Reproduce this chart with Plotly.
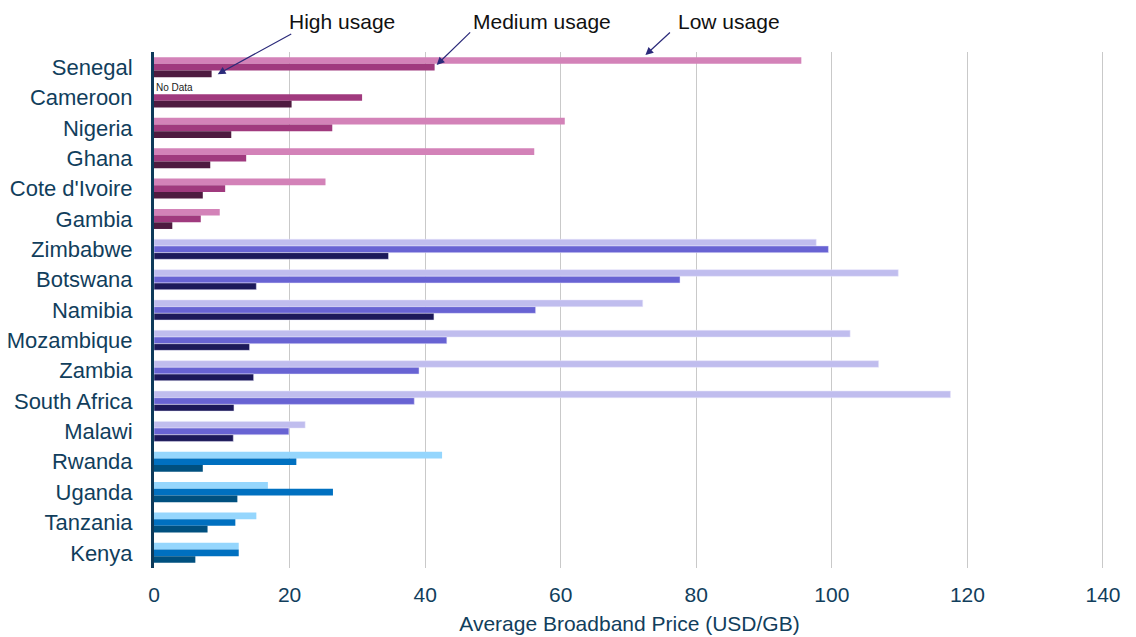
import plotly.graph_objects as go

countries = ["Senegal", "Cameroon", "Nigeria", "Ghana", "Cote d'Ivoire", "Gambia",
             "Zimbabwe", "Botswana", "Namibia", "Mozambique", "Zambia", "South Africa", "Malawi",
             "Rwanda", "Uganda", "Tanzania", "Kenya"]
regions = ["West"] * 6 + ["South"] * 7 + ["East"] * 4

low_usage = [95.5, None, 60.6, 56.1, 25.3, 9.7,
             97.7, 109.8, 72.1, 102.7, 106.9, 117.5, 22.3,
             42.5, 16.8, 15.1, 12.5]
medium_usage = [41.4, 30.7, 26.3, 13.6, 10.5, 6.9,
                99.5, 77.6, 56.3, 43.2, 39.1, 38.4, 19.9,
                21.0, 26.4, 12.0, 12.5]
high_usage = [8.5, 20.3, 11.4, 8.3, 7.2, 2.7,
              34.6, 15.1, 41.3, 14.1, 14.7, 11.8, 11.7,
              7.2, 12.3, 7.9, 6.1]

palette = {
    "West": {"low": "#D382B8", "medium": "#A03A7E", "high": "#4E1B40"},
    "South": {"low": "#C0BDEE", "medium": "#6863D3", "high": "#1C1959"},
    "East": {"low": "#95D6FD", "medium": "#0070C0", "high": "#00507F"},
}
border_w = {"West": 0, "South": 0.5, "East": 0}

TEXT = "#113E5C"
FONT = "Liberation Sans, Arial, sans-serif"

fig = go.Figure()
for name, vals, key in [("Low usage", low_usage, "low"),
                        ("Medium usage", medium_usage, "medium"),
                        ("High usage", high_usage, "high")]:
    fig.add_trace(go.Bar(
        name=name, y=countries, x=vals, orientation="h",
        marker=dict(color=[palette[r][key] for r in regions],
                    line=dict(color="#E6E4FA", width=[border_w[r] for r in regions])),
        showlegend=False, hoverinfo="x+y",
    ))

ann = []
ann.append(dict(x=0, y="Cameroon", xref="x", yref="y", text="No Data", showarrow=False,
                xanchor="left", yanchor="middle", yshift=10,
                font=dict(size=10, color="#222222", family=FONT)))
labels = [("High usage", 27.8, 9.4, 0.957, 75, -41),
          ("Medium usage", 57.3, 41.7, 0.975, 35, -34),
          ("Low usage", 84.9, 72.5, 0.994, 26, -24)]
for txt, tx, hx, hy, axp, ayp in labels:
    ann.append(dict(x=tx, y=1.060, xref="x", yref="paper", text=txt, showarrow=False,
                    xanchor="center", yanchor="middle",
                    font=dict(size=21, color="#111111", family=FONT)))
    ann.append(dict(x=hx, y=hy, xref="x", yref="paper", text="", showarrow=True,
                    ax=axp, ay=ayp, arrowhead=2, arrowsize=1.3, arrowwidth=1.2,
                    arrowcolor="#2B2A7A", standoff=0, startstandoff=0))

fig.update_layout(
    barmode="group", bargap=0.34, bargroupgap=0,
    width=1136, height=637,
    margin=dict(l=154, r=31, t=52, b=69),
    paper_bgcolor="white", plot_bgcolor="white",
    font=dict(family=FONT, color=TEXT),
    annotations=ann,
    xaxis=dict(range=[0, 140.3], tickvals=[0, 20, 40, 60, 80, 100, 120, 140],
               showgrid=True, gridcolor="#C9C9C9", automargin=False,
               gridwidth=1, zeroline=False, showline=False, ticks="",
               tickfont=dict(size=21, color=TEXT, family=FONT), ticklabelstandoff=12,
               title=dict(text="Average Broadband Price (USD/GB)",
                          font=dict(size=21, color=TEXT, family=FONT), standoff=11)),
    yaxis=dict(autorange="reversed", showgrid=False, zeroline=False, automargin=False,
               showline=True, linecolor="#0E3A5A", linewidth=3, ticks="",
               tickfont=dict(size=22, color=TEXT, family=FONT), ticklabelstandoff=14),
)

fig.write_html("out.html")
